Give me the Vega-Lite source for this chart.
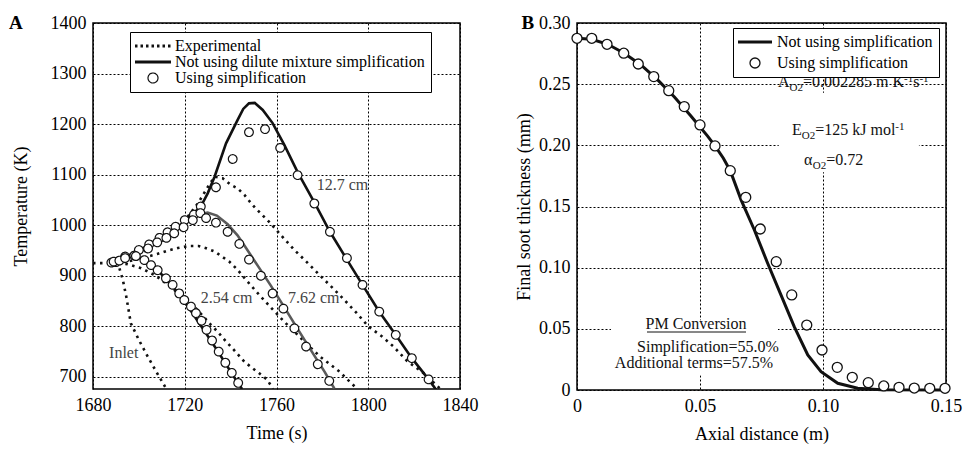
{
  "$schema": "https://vega.github.io/schema/vega-lite/v6.json",
  "background": "white",
  "padding": {"left": 8, "top": 13, "right": 0, "bottom": 0},
  "config": {
    "font": "Liberation Serif",
    "view": {"stroke": "black", "strokeWidth": 1.5},
    "axis": {
      "grid": true, "gridColor": "black", "gridDash": [2, 2], "gridWidth": 1, "gridOpacity": 1,
      "domain": false, "ticks": false,
      "labelFont": "Liberation Serif", "labelFontSize": 18, "labelColor": "black", "labelPadding": 7,
      "labelFlush": false, "labelOverlap": false,
      "titleFont": "Liberation Serif", "titleFontSize": 18, "titleFontWeight": "normal", "titleColor": "black"
    },
    "legend": {
      "labelFont": "Liberation Serif", "labelFontSize": 16, "labelColor": "black",
      "strokeColor": "black", "fillColor": "white", "padding": 6, "titlePadding": 0, "labelLimit": 400
    }
  },
  "datasets": {
    "aexp": [
      {"s": "Inlet", "t": 1680, "T": 925}, {"s": "Inlet", "t": 1688, "T": 925}, {"s": "Inlet", "t": 1691.5, "T": 915},
      {"s": "Inlet", "t": 1693, "T": 892}, {"s": "Inlet", "t": 1694.5, "T": 859}, {"s": "Inlet", "t": 1696.5, "T": 806},
      {"s": "Inlet", "t": 1700, "T": 773}, {"s": "Inlet", "t": 1704, "T": 739}, {"s": "Inlet", "t": 1708, "T": 707},
      {"s": "Inlet", "t": 1712, "T": 676},
      {"s": "2.54", "t": 1688, "T": 925}, {"s": "2.54", "t": 1695, "T": 923}, {"s": "2.54", "t": 1701, "T": 915},
      {"s": "2.54", "t": 1707, "T": 901}, {"s": "2.54", "t": 1713, "T": 881}, {"s": "2.54", "t": 1718, "T": 862},
      {"s": "2.54", "t": 1722.7, "T": 845}, {"s": "2.54", "t": 1725.6, "T": 832}, {"s": "2.54", "t": 1731.4, "T": 803},
      {"s": "2.54", "t": 1734.4, "T": 789}, {"s": "2.54", "t": 1738, "T": 770}, {"s": "2.54", "t": 1740.9, "T": 756},
      {"s": "2.54", "t": 1746, "T": 730}, {"s": "2.54", "t": 1749.6, "T": 717}, {"s": "2.54", "t": 1752.5, "T": 707},
      {"s": "2.54", "t": 1756, "T": 694}, {"s": "2.54", "t": 1758.5, "T": 676},
      {"s": "7.62", "t": 1690, "T": 925}, {"s": "7.62", "t": 1697, "T": 930}, {"s": "7.62", "t": 1703, "T": 937},
      {"s": "7.62", "t": 1708, "T": 943}, {"s": "7.62", "t": 1712, "T": 949}, {"s": "7.62", "t": 1717, "T": 955},
      {"s": "7.62", "t": 1722, "T": 959}, {"s": "7.62", "t": 1726, "T": 959}, {"s": "7.62", "t": 1729, "T": 955},
      {"s": "7.62", "t": 1733, "T": 948}, {"s": "7.62", "t": 1739.4, "T": 928}, {"s": "7.62", "t": 1743, "T": 912},
      {"s": "7.62", "t": 1746.7, "T": 892}, {"s": "7.62", "t": 1752.5, "T": 862}, {"s": "7.62", "t": 1758, "T": 835},
      {"s": "7.62", "t": 1763.4, "T": 809}, {"s": "7.62", "t": 1771, "T": 775}, {"s": "7.62", "t": 1779, "T": 740},
      {"s": "7.62", "t": 1787, "T": 712}, {"s": "7.62", "t": 1795, "T": 677},
      {"s": "12.7", "t": 1688, "T": 925}, {"s": "12.7", "t": 1696, "T": 935}, {"s": "12.7", "t": 1703, "T": 950},
      {"s": "12.7", "t": 1710, "T": 968}, {"s": "12.7", "t": 1716, "T": 990}, {"s": "12.7", "t": 1721, "T": 1015},
      {"s": "12.7", "t": 1726, "T": 1045}, {"s": "12.7", "t": 1730, "T": 1075}, {"s": "12.7", "t": 1733, "T": 1096},
      {"s": "12.7", "t": 1736.5, "T": 1093}, {"s": "12.7", "t": 1740, "T": 1080}, {"s": "12.7", "t": 1743, "T": 1073},
      {"s": "12.7", "t": 1746, "T": 1060}, {"s": "12.7", "t": 1749, "T": 1043}, {"s": "12.7", "t": 1751, "T": 1033},
      {"s": "12.7", "t": 1756.7, "T": 1007}, {"s": "12.7", "t": 1762, "T": 980}, {"s": "12.7", "t": 1767.8, "T": 951},
      {"s": "12.7", "t": 1773, "T": 928}, {"s": "12.7", "t": 1778, "T": 905}, {"s": "12.7", "t": 1784, "T": 878},
      {"s": "12.7", "t": 1789.6, "T": 852}, {"s": "12.7", "t": 1795, "T": 826}, {"s": "12.7", "t": 1800, "T": 800},
      {"s": "12.7", "t": 1806, "T": 780}, {"s": "12.7", "t": 1811, "T": 760}, {"s": "12.7", "t": 1817, "T": 731},
      {"s": "12.7", "t": 1824, "T": 708}, {"s": "12.7", "t": 1831.5, "T": 676}
    ],
    "amod": [
      {"s": "12.7", "t": 1688, "T": 926}, {"s": "12.7", "t": 1694, "T": 937}, {"s": "12.7", "t": 1700, "T": 950},
      {"s": "12.7", "t": 1705, "T": 962}, {"s": "12.7", "t": 1710, "T": 976}, {"s": "12.7", "t": 1715, "T": 990},
      {"s": "12.7", "t": 1719, "T": 1004}, {"s": "12.7", "t": 1723, "T": 1020}, {"s": "12.7", "t": 1727, "T": 1037},
      {"s": "12.7", "t": 1730, "T": 1063}, {"s": "12.7", "t": 1733, "T": 1096}, {"s": "12.7", "t": 1738, "T": 1162},
      {"s": "12.7", "t": 1743, "T": 1208}, {"s": "12.7", "t": 1745.5, "T": 1230}, {"s": "12.7", "t": 1748, "T": 1241},
      {"s": "12.7", "t": 1750.5, "T": 1242}, {"s": "12.7", "t": 1754, "T": 1228}, {"s": "12.7", "t": 1758.3, "T": 1202},
      {"s": "12.7", "t": 1763.4, "T": 1159}, {"s": "12.7", "t": 1769.2, "T": 1105}, {"s": "12.7", "t": 1776.5, "T": 1045},
      {"s": "12.7", "t": 1783.3, "T": 987}, {"s": "12.7", "t": 1790.7, "T": 932}, {"s": "12.7", "t": 1797.5, "T": 882},
      {"s": "12.7", "t": 1804.8, "T": 829}, {"s": "12.7", "t": 1812, "T": 783}, {"s": "12.7", "t": 1819, "T": 737},
      {"s": "12.7", "t": 1826.3, "T": 695}, {"s": "12.7", "t": 1830, "T": 672},
      {"s": "7.62", "t": 1689, "T": 927}, {"s": "7.62", "t": 1696, "T": 938}, {"s": "7.62", "t": 1702, "T": 951},
      {"s": "7.62", "t": 1708, "T": 966}, {"s": "7.62", "t": 1713, "T": 980}, {"s": "7.62", "t": 1718, "T": 995},
      {"s": "7.62", "t": 1722, "T": 1010}, {"s": "7.62", "t": 1726, "T": 1021}, {"s": "7.62", "t": 1730, "T": 1025},
      {"s": "7.62", "t": 1734, "T": 1019}, {"s": "7.62", "t": 1738.7, "T": 1002}, {"s": "7.62", "t": 1743, "T": 980},
      {"s": "7.62", "t": 1746, "T": 960}, {"s": "7.62", "t": 1751.8, "T": 920}, {"s": "7.62", "t": 1757.6, "T": 880},
      {"s": "7.62", "t": 1762.7, "T": 843}, {"s": "7.62", "t": 1769.2, "T": 795}, {"s": "7.62", "t": 1776.5, "T": 742},
      {"s": "7.62", "t": 1781, "T": 710}, {"s": "7.62", "t": 1785.2, "T": 677},
      {"s": "2.54", "t": 1689, "T": 928}, {"s": "2.54", "t": 1694, "T": 935}, {"s": "2.54", "t": 1698.7, "T": 939},
      {"s": "2.54", "t": 1703, "T": 930}, {"s": "2.54", "t": 1706, "T": 918}, {"s": "2.54", "t": 1709, "T": 907},
      {"s": "2.54", "t": 1711.8, "T": 894}, {"s": "2.54", "t": 1714.7, "T": 879}, {"s": "2.54", "t": 1717.6, "T": 863},
      {"s": "2.54", "t": 1720.2, "T": 847}, {"s": "2.54", "t": 1723.4, "T": 826}, {"s": "2.54", "t": 1726, "T": 808},
      {"s": "2.54", "t": 1729, "T": 788}, {"s": "2.54", "t": 1731.9, "T": 768}, {"s": "2.54", "t": 1734.8, "T": 748},
      {"s": "2.54", "t": 1737.7, "T": 727}, {"s": "2.54", "t": 1740.5, "T": 707}, {"s": "2.54", "t": 1743.3, "T": 687},
      {"s": "2.54", "t": 1745, "T": 676}
    ],
    "asim": [
      {"s": "12.7", "t": 1688, "T": 926}, {"s": "12.7", "t": 1694, "T": 938}, {"s": "12.7", "t": 1700, "T": 951},
      {"s": "12.7", "t": 1704.5, "T": 962}, {"s": "12.7", "t": 1709, "T": 975}, {"s": "12.7", "t": 1712.5, "T": 986},
      {"s": "12.7", "t": 1716, "T": 997}, {"s": "12.7", "t": 1720, "T": 1010}, {"s": "12.7", "t": 1724, "T": 1021},
      {"s": "12.7", "t": 1727, "T": 1037}, {"s": "12.7", "t": 1733.6, "T": 1075}, {"s": "12.7", "t": 1740.9, "T": 1131},
      {"s": "12.7", "t": 1748, "T": 1184}, {"s": "12.7", "t": 1755, "T": 1190}, {"s": "12.7", "t": 1761.6, "T": 1153},
      {"s": "12.7", "t": 1769.2, "T": 1099}, {"s": "12.7", "t": 1776.5, "T": 1043}, {"s": "12.7", "t": 1783.3, "T": 987},
      {"s": "12.7", "t": 1790.7, "T": 935}, {"s": "12.7", "t": 1797.5, "T": 882}, {"s": "12.7", "t": 1804.8, "T": 829},
      {"s": "12.7", "t": 1812, "T": 783}, {"s": "12.7", "t": 1819, "T": 737}, {"s": "12.7", "t": 1826.3, "T": 695},
      {"s": "7.62", "t": 1690, "T": 927}, {"s": "7.62", "t": 1698, "T": 940}, {"s": "7.62", "t": 1704, "T": 954},
      {"s": "7.62", "t": 1708, "T": 966}, {"s": "7.62", "t": 1712, "T": 975}, {"s": "7.62", "t": 1715.4, "T": 984},
      {"s": "7.62", "t": 1719.5, "T": 996}, {"s": "7.62", "t": 1723.5, "T": 1010}, {"s": "7.62", "t": 1726.8, "T": 1024},
      {"s": "7.62", "t": 1729.3, "T": 1014}, {"s": "7.62", "t": 1733.6, "T": 1005}, {"s": "7.62", "t": 1738.7, "T": 987},
      {"s": "7.62", "t": 1743.8, "T": 963}, {"s": "7.62", "t": 1748, "T": 932}, {"s": "7.62", "t": 1753.2, "T": 900},
      {"s": "7.62", "t": 1758.3, "T": 865}, {"s": "7.62", "t": 1763, "T": 835}, {"s": "7.62", "t": 1767.8, "T": 796},
      {"s": "7.62", "t": 1772.9, "T": 760}, {"s": "7.62", "t": 1778, "T": 725}, {"s": "7.62", "t": 1783, "T": 692},
      {"s": "2.54", "t": 1689, "T": 928}, {"s": "2.54", "t": 1691.5, "T": 930}, {"s": "2.54", "t": 1694, "T": 935},
      {"s": "2.54", "t": 1698.7, "T": 939}, {"s": "2.54", "t": 1702.4, "T": 931}, {"s": "2.54", "t": 1705.3, "T": 921},
      {"s": "2.54", "t": 1708.2, "T": 911}, {"s": "2.54", "t": 1711.8, "T": 895}, {"s": "2.54", "t": 1714.7, "T": 882},
      {"s": "2.54", "t": 1717.6, "T": 865}, {"s": "2.54", "t": 1719.8, "T": 852}, {"s": "2.54", "t": 1722.7, "T": 839},
      {"s": "2.54", "t": 1724.9, "T": 826}, {"s": "2.54", "t": 1727.3, "T": 811}, {"s": "2.54", "t": 1729.5, "T": 793},
      {"s": "2.54", "t": 1731.9, "T": 772}, {"s": "2.54", "t": 1734.8, "T": 750}, {"s": "2.54", "t": 1737.7, "T": 728},
      {"s": "2.54", "t": 1740.5, "T": 708}, {"s": "2.54", "t": 1743.3, "T": 688}
    ],
    "alab": [
      {"t": 1777.5, "T": 1080, "label": "12.7 cm"},
      {"t": 1727, "T": 856, "label": "2.54 cm"},
      {"t": 1765, "T": 857, "label": "7.62 cm"},
      {"t": 1687, "T": 747, "label": "Inlet"}
    ],
    "bmod": [
      {"d": 0, "h": 0.2875}, {"d": 0.006, "h": 0.2867}, {"d": 0.0125, "h": 0.2826}, {"d": 0.0192, "h": 0.2753},
      {"d": 0.026, "h": 0.2657}, {"d": 0.0328, "h": 0.2535}, {"d": 0.0396, "h": 0.2395}, {"d": 0.0463, "h": 0.224},
      {"d": 0.0531, "h": 0.2075}, {"d": 0.0561, "h": 0.1995}, {"d": 0.0595, "h": 0.1895}, {"d": 0.0623, "h": 0.1793},
      {"d": 0.0667, "h": 0.1554}, {"d": 0.0721, "h": 0.1308}, {"d": 0.0775, "h": 0.1036}, {"d": 0.0829, "h": 0.0777},
      {"d": 0.0883, "h": 0.0518}, {"d": 0.0938, "h": 0.0286}, {"d": 0.0992, "h": 0.015}, {"d": 0.106, "h": 0.0055},
      {"d": 0.1141, "h": 0.0014}, {"d": 0.1236, "h": 0.0002}, {"d": 0.15, "h": 0}
    ],
    "bsim": [
      {"d": 0, "h": 0.2875}, {"d": 0.006, "h": 0.2875}, {"d": 0.0122, "h": 0.2826}, {"d": 0.019, "h": 0.2753},
      {"d": 0.0249, "h": 0.2665}, {"d": 0.0312, "h": 0.2562}, {"d": 0.0373, "h": 0.2447}, {"d": 0.0436, "h": 0.2317},
      {"d": 0.05, "h": 0.2167}, {"d": 0.0561, "h": 0.1995}, {"d": 0.0623, "h": 0.1793}, {"d": 0.0686, "h": 0.1575},
      {"d": 0.0745, "h": 0.1316}, {"d": 0.081, "h": 0.1049}, {"d": 0.0873, "h": 0.0777}, {"d": 0.0934, "h": 0.0531},
      {"d": 0.0996, "h": 0.0327}, {"d": 0.1058, "h": 0.0185}, {"d": 0.1119, "h": 0.0104}, {"d": 0.1184, "h": 0.006},
      {"d": 0.1247, "h": 0.0033}, {"d": 0.1309, "h": 0.0022}, {"d": 0.1371, "h": 0.0016}, {"d": 0.1434, "h": 0.0014},
      {"d": 0.1496, "h": 0.0014}
    ],
    "bbox": [
      {"d": 0.082, "d2": 0.139, "h": 0.178, "h2": 0.243},
      {"d": 0.0138, "d2": 0.0817, "h": 0.012, "h2": 0.057}
    ],
    "bmain": [
      {"d": 0.08171, "h": 0.2478, "txt": "A"}, {"d": 0.09187, "h": 0.2478, "txt": "=0.002285 m K"},
      {"d": 0.13667, "h": 0.2478, "txt": "s"},
      {"d": 0.0874, "h": 0.2085, "txt": "E"}, {"d": 0.09683, "h": 0.2085, "txt": "=125 kJ mol"},
      {"d": 0.09228, "h": 0.184, "txt": "α"}, {"d": 0.1013, "h": 0.184, "txt": "=0.72"}
    ],
    "bsub": [
      {"d": 0.08642, "h": 0.2445, "txt": "O2"}, {"d": 0.09138, "h": 0.2052, "txt": "O2"},
      {"d": 0.09585, "h": 0.1807, "txt": "O2"}
    ],
    "bsup": [
      {"d": 0.13293, "h": 0.2518, "txt": "-1"}, {"d": 0.13919, "h": 0.2518, "txt": "-1"},
      {"d": 0.12939, "h": 0.2126, "txt": "-1"}
    ],
    "bcen": [
      {"d": 0.04837, "h": 0.0499, "txt": "PM Conversion"},
      {"d": 0.05325, "h": 0.0313, "txt": "Simplification=55.0%"},
      {"d": 0.04756, "h": 0.0182, "txt": "Additional terms=57.5%"}
    ],
    "bline": [
      {"d": 0.02846, "d2": 0.0687, "h": 0.0474}
    ]
  },
  "hconcat": [
    {
      "width": 367,
      "height": 366,
      "title": {"text": "A", "anchor": "start", "frame": "bounds", "fontSize": 19, "fontWeight": "bold", "font": "Liberation Serif", "color": "black", "offset": 0, "dy": 19, "dx": -3},
      "layer": [
        {
          "data": {"name": "aexp"},
          "mark": {"type": "line", "strokeDash": [2.5, 4.5], "strokeWidth": 2.6, "color": "#111", "clip": true},
          "encoding": {
            "x": {"field": "t", "type": "quantitative", "title": "Time (s)",
                  "scale": {"domain": [1680, 1840], "nice": false, "zero": false},
                  "axis": {"values": [1680, 1720, 1760, 1800, 1840], "format": "d", "titlePadding": 10}},
            "y": {"field": "T", "type": "quantitative", "title": "Temperature (K)",
                  "scale": {"domain": [676, 1400], "nice": false, "zero": false},
                  "axis": {"values": [700, 800, 900, 1000, 1100, 1200, 1300, 1400], "format": "d", "titlePadding": 20}},
            "detail": {"field": "s"}
          }
        },
        {
          "data": {"name": "amod"},
          "mark": {"type": "line", "strokeWidth": 2.6, "clip": true},
          "encoding": {
            "x": {"field": "t", "type": "quantitative"},
            "y": {"field": "T", "type": "quantitative"},
            "color": {"field": "s", "type": "nominal", "legend": null,
                      "scale": {"domain": ["2.54", "7.62", "12.7"], "range": ["#111111", "#5a5a5a", "#111111"]}}
          }
        },
        {
          "data": {"name": "asim"},
          "mark": {"type": "point", "filled": false, "fill": "white", "stroke": "#111", "size": 75, "opacity": 1},
          "encoding": {
            "x": {"field": "t", "type": "quantitative"},
            "y": {"field": "T", "type": "quantitative"},
            "shape": {
              "datum": "Using simplification",
              "scale": {"domain": ["Experimental", "Not using dilute mixture simplification", "Using simplification"],
                        "range": ["M-3.6,0H3.6", "M-3.6,0H3.6", "circle"]},
              "legend": {
                "title": null, "orient": "none", "legendX": 37, "legendY": 9,
                "symbolOffset": 9, "labelOffset": 14, "rowPadding": -1.5,
                "strokeColor": "black", "fillColor": "white", "padding": 6
              }
            },
            "strokeWidth": {
              "datum": "Using simplification",
              "scale": {"type": "ordinal", "domain": ["Experimental", "Not using dilute mixture simplification", "Using simplification"],
                        "range": [3, 3, 1.2]},
              "legend": {
                "title": null, "orient": "none", "legendX": 37, "legendY": 9,
                "symbolOffset": 9, "labelOffset": 14, "rowPadding": -1.5,
                "strokeColor": "black", "fillColor": "white", "padding": 6
              }
            },
            "strokeDash": {
              "datum": "Using simplification",
              "scale": {"domain": ["Experimental", "Not using dilute mixture simplification", "Using simplification"],
                        "range": [[2.5, 3], [1, 0], [1, 0]]},
              "legend": {
                "title": null, "orient": "none", "legendX": 37, "legendY": 9,
                "symbolOffset": 9, "labelOffset": 14, "rowPadding": -1.5,
                "strokeColor": "black", "fillColor": "white", "padding": 6
              }
            }
          }
        },
        {
          "data": {"name": "alab"},
          "mark": {"type": "text", "align": "left", "baseline": "middle", "fontSize": 16, "color": "#444"},
          "encoding": {
            "x": {"field": "t", "type": "quantitative"},
            "y": {"field": "T", "type": "quantitative"},
            "text": {"field": "label"}
          }
        }
      ]
    },
    {
      "width": 369,
      "height": 367,
      "title": {"text": "B", "anchor": "start", "frame": "bounds", "fontSize": 19, "fontWeight": "bold", "font": "Liberation Serif", "color": "black", "offset": 0, "dy": 19, "dx": 6},
      "layer": [
        {
          "data": {"name": "bbox"},
          "mark": {"type": "rect", "color": "white"},
          "encoding": {
            "x": {"field": "d", "type": "quantitative", "title": "Axial distance (m)",
                  "scale": {"domain": [0, 0.15], "nice": false},
                  "axis": {"values": [0, 0.05, 0.1, 0.15], "titlePadding": 10,
                           "labelExpr": "datum.value === 0 ? '0' : format(datum.value, '.2f')"}},
            "x2": {"field": "d2"},
            "y": {"field": "h", "type": "quantitative", "title": "Final soot thickness (mm)",
                  "scale": {"domain": [0, 0.3], "nice": false},
                  "axis": {"values": [0, 0.05, 0.1, 0.15, 0.2, 0.25, 0.3], "titlePadding": 5,
                           "labelExpr": "datum.value === 0 ? '0' : format(datum.value, '.2f')"}},
            "y2": {"field": "h2"}
          }
        },
        {
          "data": {"name": "bmod"},
          "mark": {"type": "line", "strokeWidth": 3, "color": "#111"},
          "encoding": {
            "x": {"field": "d", "type": "quantitative"},
            "y": {"field": "h", "type": "quantitative"}
          }
        },
        {
          "data": {"name": "bsim"},
          "mark": {"type": "point", "filled": false, "fill": "white", "stroke": "#111", "size": 100, "opacity": 1},
          "encoding": {
            "x": {"field": "d", "type": "quantitative"},
            "y": {"field": "h", "type": "quantitative"},
            "shape": {
              "datum": "Using simplification",
              "scale": {"domain": ["Not using simplification", "Using simplification"],
                        "range": ["M-3.4,0H3.4", "circle"]},
              "legend": {
                "title": null, "orient": "none", "legendX": 156, "legendY": 5,
                "symbolOffset": 8, "labelOffset": 14, "rowPadding": 5,
                "strokeColor": "black", "fillColor": "white", "padding": 6
              }
            },
            "strokeWidth": {
              "datum": "Using simplification",
              "scale": {"type": "ordinal", "domain": ["Not using simplification", "Using simplification"],
                        "range": [3, 1.3]},
              "legend": {
                "title": null, "orient": "none", "legendX": 156, "legendY": 5,
                "symbolOffset": 8, "labelOffset": 14, "rowPadding": 5,
                "strokeColor": "black", "fillColor": "white", "padding": 6
              }
            }
          }
        },
        {
          "data": {"name": "bmain"},
          "mark": {"type": "text", "align": "left", "baseline": "alphabetic", "fontSize": 16, "color": "#111"},
          "encoding": {
            "x": {"field": "d", "type": "quantitative"},
            "y": {"field": "h", "type": "quantitative"},
            "text": {"field": "txt"}
          }
        },
        {
          "data": {"name": "bsub"},
          "mark": {"type": "text", "align": "left", "baseline": "alphabetic", "fontSize": 11, "color": "#111"},
          "encoding": {
            "x": {"field": "d", "type": "quantitative"},
            "y": {"field": "h", "type": "quantitative"},
            "text": {"field": "txt"}
          }
        },
        {
          "data": {"name": "bsup"},
          "mark": {"type": "text", "align": "left", "baseline": "alphabetic", "fontSize": 11, "color": "#111"},
          "encoding": {
            "x": {"field": "d", "type": "quantitative"},
            "y": {"field": "h", "type": "quantitative"},
            "text": {"field": "txt"}
          }
        },
        {
          "data": {"name": "bcen"},
          "mark": {"type": "text", "align": "center", "baseline": "alphabetic", "fontSize": 16, "color": "#111"},
          "encoding": {
            "x": {"field": "d", "type": "quantitative"},
            "y": {"field": "h", "type": "quantitative"},
            "text": {"field": "txt"}
          }
        },
        {
          "data": {"name": "bline"},
          "mark": {"type": "rule", "strokeWidth": 1, "color": "#111"},
          "encoding": {
            "x": {"field": "d", "type": "quantitative"},
            "x2": {"field": "d2"},
            "y": {"field": "h", "type": "quantitative"}
          }
        }
      ]
    }
  ],
  "spacing": 117,
  "bounds": "flush",
  "resolve": {
    "scale": {"shape": "independent", "color": "independent", "x": "independent", "y": "independent", "strokeWidth": "independent", "strokeDash": "independent"},
    "legend": {"shape": "independent", "strokeWidth": "independent", "strokeDash": "independent"}
  }
}
